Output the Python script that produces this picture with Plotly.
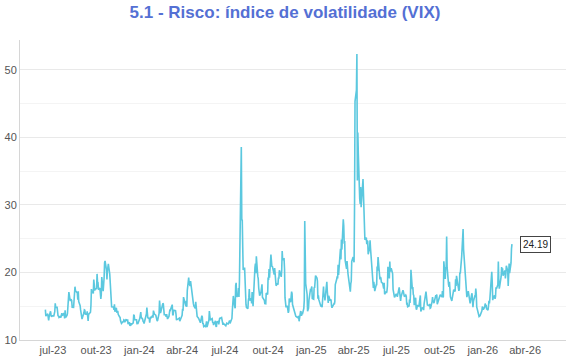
import pandas as pd
import plotly.graph_objects as go

title_text = "5.1 - Risco: índice de volatilidade (VIX)"

tick_dates = ["2023-07-01", "2023-10-01", "2024-01-01", "2024-04-01", "2024-07-01", "2024-10-01",
              "2025-01-01", "2025-04-01", "2025-07-01", "2025-10-01", "2026-01-01", "2026-04-01"]
tick_labels = ["jul-23", "out-23", "jan-24", "abr-24", "jul-24", "out-24",
               "jan-25", "abr-25", "jul-25", "out-25", "jan-26", "abr-26"]

first_day = "2023-06-15"
holidays = ["2023-06-19", "2023-07-04", "2023-09-04", "2023-11-23", "2023-12-25",
            "2024-01-01", "2024-01-15", "2024-02-19", "2024-03-29", "2024-05-27", "2024-06-19",
            "2024-07-04", "2024-09-02", "2024-11-28", "2024-12-25",
            "2025-01-01", "2025-01-09", "2025-01-20", "2025-02-17", "2025-04-18", "2025-05-26",
            "2025-06-19", "2025-07-04", "2025-09-01", "2025-11-27", "2025-12-25",
            "2026-01-01", "2026-01-19", "2026-02-16"]

# monthly lists of daily closes (Jun 2023 .. Dec 2023)
vix_2023 = [
    [14.5, 13.54, 13.88, 13.2, 12.91, 13.44, 14.25, 13.74, 13.43, 13.54, 13.59],
    [13.57, 14.18, 15.44, 14.83, 14.84, 14.0, 13.54, 13.61, 13.34, 13.48, 13.3, 13.76, 13.99, 13.6,
     13.91, 13.86, 13.19, 14.41, 13.33, 13.63],
    [13.93, 16.09, 15.92, 17.1, 15.77, 15.99, 15.96, 15.85, 14.84, 14.82, 16.46, 16.78, 17.89, 17.3,
     17.13, 16.97, 15.98, 17.2, 15.68, 15.08, 14.45, 14.11, 13.57],
    [13.09, 14.02, 14.45, 14.4, 13.84, 13.8, 14.23, 13.48, 12.82, 13.79, 14.0, 14.11, 15.14, 17.54,
     17.2, 16.9, 18.94, 18.22, 17.34, 17.52],
    [17.61, 19.78, 18.58, 18.49, 17.45, 17.7, 17.03, 16.09, 16.69, 19.32, 17.21, 17.88, 19.22, 21.4,
     21.71, 20.37, 18.97, 20.19, 20.68, 21.27, 19.75, 18.14],
    [16.87, 15.66, 14.91, 14.89, 14.81, 14.45, 15.29, 14.17, 14.76, 14.16, 14.18, 14.32, 13.8, 13.41,
     13.35, 12.85, 12.46, 12.69, 12.69, 12.98, 12.92],
    [12.63, 13.08, 12.85, 12.97, 13.06, 12.35, 12.63, 12.07, 12.19, 12.48, 12.28, 12.56, 12.53, 13.67,
     13.65, 13.03, 12.99, 12.43, 12.47, 12.45],
]

vix_2024 = [
    [13.2, 14.04, 14.13, 13.35, 13.08, 12.76, 12.69, 12.44, 12.7, 13.84, 14.79, 14.13, 13.3, 13.19,
     12.55, 13.14, 13.45, 13.26, 13.6, 13.31, 14.35],
    [13.88, 13.85, 13.67, 13.06, 12.83, 12.79, 12.93, 13.93, 15.85, 14.38, 14.01, 14.24, 15.42, 15.34,
     14.54, 13.75, 13.74, 13.43, 13.84, 13.4],
    [13.11, 13.49, 14.46, 14.5, 14.44, 14.74, 15.23, 13.75, 13.75, 14.4, 14.41, 14.33, 13.82, 12.92,
     13.06, 13.06, 13.19, 13.24, 12.78, 13.01],
    [13.65, 14.61, 14.33, 16.35, 16.03, 15.19, 14.98, 15.8, 14.91, 17.31, 19.23, 18.4, 18.21, 18.0,
     18.71, 16.94, 15.69, 15.97, 15.37, 15.03, 14.67, 15.65],
    [14.72, 13.49, 13.49, 13.23, 13.0, 13.0, 12.69, 12.55, 13.6, 13.42, 12.45, 12.42, 11.99, 12.15,
     11.86, 12.29, 12.77, 11.93, 12.92, 14.28, 13.49, 12.92],
    [13.11, 13.16, 12.63, 12.58, 12.22, 12.74, 12.85, 12.04, 11.94, 12.66, 12.75, 12.3, 13.28, 13.2,
     13.33, 12.84, 12.55, 12.24, 12.44],
    [12.22, 12.03, 12.09, 12.48, 12.37, 12.51, 12.85, 12.89, 12.46, 13.12, 13.19, 14.48, 15.93, 16.52,
     14.91, 14.72, 18.04, 18.46, 16.39, 16.6, 17.69, 16.36],
    [18.59, 23.39, 38.57, 27.71, 27.85, 23.79, 20.37, 20.71, 18.12, 16.19, 15.23, 14.8, 14.65, 15.88,
     16.27, 17.55, 15.86, 16.15, 15.43, 17.11, 15.65, 15.0],
    [20.72, 21.32, 19.9, 22.38, 19.45, 19.08, 17.69, 17.07, 16.56, 17.14, 17.61, 18.23, 16.33, 16.15,
     15.89, 15.39, 15.41, 15.37, 16.96, 16.73],
    [19.26, 18.9, 20.49, 19.21, 22.64, 21.42, 20.86, 20.93, 20.46, 19.7, 20.64, 19.58, 19.11, 18.03,
     18.37, 18.2, 19.24, 19.08, 20.33, 19.8, 19.34, 20.35, 23.16],
    [21.88, 21.98, 20.49, 16.27, 15.2, 14.94, 14.97, 14.71, 14.02, 14.31, 16.14, 15.58, 16.35, 17.16,
     16.87, 15.24, 14.6, 14.1, 14.1, 13.51],
    [13.34, 13.3, 13.45, 13.54, 12.77, 14.19, 14.18, 13.58, 13.92, 13.81, 14.69, 15.87, 27.62, 24.09,
     18.36, 16.78, 14.27, 14.73, 15.95, 17.4, 17.35],
]

vix_2025 = [
    [17.93, 16.13, 16.04, 17.82, 17.7, 19.54, 19.19, 18.71, 16.12, 16.6, 15.97, 15.06, 15.1, 15.02,
     14.85, 17.9, 16.41, 16.56, 15.84, 16.43],
    [18.62, 17.21, 15.77, 15.5, 16.54, 15.81, 16.02, 15.89, 15.1, 14.77, 15.35, 15.27, 15.66, 18.21,
     18.98, 19.43, 19.1, 21.13, 19.63],
    [22.78, 23.51, 21.93, 24.87, 23.37, 27.86, 26.92, 24.23, 24.66, 21.77, 20.51, 21.7, 19.9, 19.8,
     19.28, 17.48, 17.15, 18.33, 18.69, 21.65, 22.28],
    [21.77, 21.51, 30.02, 45.31, 46.98, 52.33, 33.62, 40.72, 37.56, 30.89, 30.12, 32.64, 29.65, 33.82,
     30.57, 28.45, 26.47, 24.84, 25.15, 24.17, 24.7],
    [24.6, 22.68, 23.64, 24.76, 23.55, 22.48, 21.9, 18.39, 17.72, 18.62, 17.83, 17.24, 18.14, 18.09,
     20.87, 20.28, 22.29, 18.96, 19.31, 19.18, 18.57],
    [18.36, 17.69, 17.61, 18.48, 16.77, 17.16, 16.95, 17.26, 18.02, 20.82, 19.11, 21.6, 20.14, 20.62,
     19.83, 17.48, 16.76, 16.59, 16.32, 16.73],
    [16.83, 16.64, 16.38, 17.79, 16.81, 15.94, 15.78, 16.4, 17.2, 17.38, 17.16, 16.52, 16.41, 16.65,
     16.5, 15.37, 15.39, 14.93, 15.03, 15.98, 15.48, 16.72],
    [20.38, 17.52, 17.85, 16.77, 16.57, 15.15, 16.25, 14.73, 14.49, 14.83, 15.09, 15.0, 15.57, 15.69,
     16.6, 14.22, 14.79, 14.62, 14.85, 14.43, 15.36],
    [17.17, 16.35, 15.3, 15.18, 15.11, 15.04, 15.35, 14.71, 14.76, 15.69, 16.36, 15.72, 15.7, 15.45,
     16.1, 16.64, 16.18, 16.74, 15.29, 16.12, 16.28],
    [16.29, 16.63, 16.65, 16.37, 17.24, 16.3, 16.43, 21.66, 19.03, 20.81, 20.64, 25.31, 20.78, 18.23,
     17.87, 18.6, 17.3, 16.37, 15.79, 16.42, 16.92, 16.91, 17.44],
    [17.17, 19.0, 18.01, 19.5, 19.08, 17.6, 17.28, 17.51, 20.0, 19.83, 22.38, 24.69, 23.66, 26.42,
     23.43, 20.52, 18.56, 17.19, 16.35],
    [17.24, 16.59, 16.08, 15.78, 15.41, 16.66, 16.93, 15.77, 14.85, 15.74, 16.5, 16.48, 17.62, 16.87,
     14.91, 14.08, 14.0, 13.47, 13.6, 14.2, 14.33, 14.95],
]

vix_2026 = [
    [14.5, 14.9, 15.4, 15.0, 15.2, 14.6, 14.4, 15.0, 15.8, 15.4, 16.1, 20.1, 18.6, 15.9, 16.2, 16.6,
     16.1, 16.4, 17.8, 17.6],
    [18.2, 21.6, 18.6, 17.6, 18.0, 19.4, 20.8, 20.2, 20.6, 19.5, 20.3, 19.1, 19.8, 21.0, 20.2, 18.0,
     19.2, 21.3, 19.9],
    [21.4, 23.5, 24.19],
]

# ---- build the daily series on the trading calendar ----
hol = pd.to_datetime(holidays)
start = pd.Timestamp(first_day)
month = pd.Timestamp("2023-06-01")
dates, values = [], []
for year_list in (vix_2023, vix_2024, vix_2025, vix_2026):
    for month_vals in year_list:
        bd = pd.bdate_range(month, month + pd.offsets.MonthEnd(0))
        bd = bd[~bd.isin(hol)]
        bd = bd[bd >= start]
        n = min(len(bd), len(month_vals))
        dates += list(bd[:n])
        values += month_vals[:n]
        month = month + pd.offsets.MonthBegin(1)

line_color = "#5bc8df"
font_family = "Liberation Sans, Arial, sans-serif"

fig = go.Figure()
fig.add_trace(go.Scatter(x=dates, y=values, mode="lines",
                         line=dict(color=line_color, width=1.6), hoverinfo="skip"))

fig.add_annotation(x=dates[-1], y=values[-1], text=f"{values[-1]:.2f}", showarrow=False,
                   xanchor="left", yanchor="middle", xshift=8,
                   font=dict(family=font_family, size=10, color="#222"),
                   bgcolor="white", bordercolor="#444", borderwidth=1, borderpad=2)

fig.update_layout(
    width=570, height=360,
    margin=dict(l=20, r=4, t=40, b=20),
    paper_bgcolor="white", plot_bgcolor="white",
    showlegend=False,
    font=dict(family=font_family, size=11, color="#555"),
    title=dict(text=f"<b>{title_text}</b>", x=0.5, xanchor="center",
               yref="container", y=1 - 12 / 360, yanchor="middle",
               font=dict(family=font_family, size=17, color="#5470d4")),
    xaxis=dict(type="date", range=["2023-04-22", "2026-06-27"],
               tickvals=tick_dates, ticktext=tick_labels, ticks="",
               showgrid=False, zeroline=False,
               showline=True, linecolor="#d6d6d6", linewidth=1,
               tickfont=dict(size=11, color="#555")),
    yaxis=dict(range=[10, 54.4], tick0=10, dtick=10, ticks="",
               showgrid=True, gridcolor="#e9e9e9", gridwidth=1,
               minor=dict(dtick=5, tick0=10, showgrid=True, gridcolor="#f4f4f4", gridwidth=1),
               zeroline=False, showline=True, linecolor="#d6d6d6", linewidth=1,
               tickfont=dict(size=11, color="#555")),
)

fig.write_html("out.html")
